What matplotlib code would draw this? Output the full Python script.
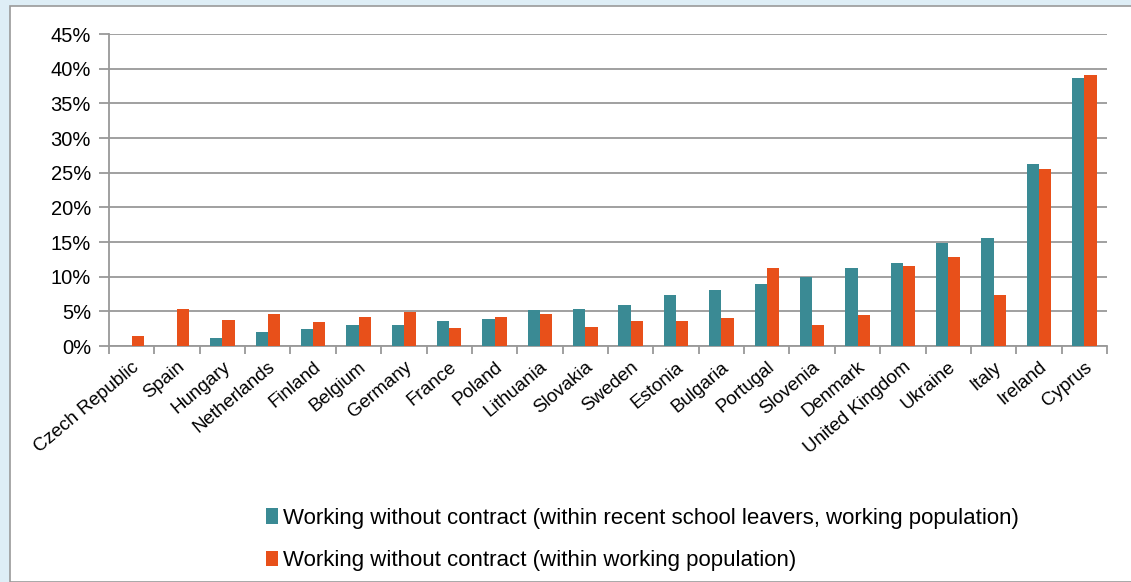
import matplotlib.pyplot as plt
import numpy as np
from matplotlib.patches import Rectangle
from matplotlib.ticker import PercentFormatter

plt.rcParams['font.family'] = ['Liberation Sans', 'DejaVu Sans']

countries = ['Czech Republic', 'Spain', 'Hungary', 'Netherlands', 'Finland', 'Belgium',
             'Germany', 'France', 'Poland', 'Lithuania', 'Slovakia', 'Sweden', 'Estonia',
             'Bulgaria', 'Portugal', 'Slovenia', 'Denmark', 'United Kingdom', 'Ukraine',
             'Italy', 'Ireland', 'Cyprus']

# % working without contract
school_leavers = [0.0, 0.0, 1.1, 2.0, 2.4, 3.0, 3.0, 3.6, 3.9, 5.2, 5.4, 5.9, 7.3,
                  8.1, 8.9, 10.0, 11.3, 11.9, 14.9, 15.6, 26.3, 38.7]
working_pop = [1.4, 5.4, 3.8, 4.6, 3.4, 4.2, 4.9, 2.6, 4.2, 4.6, 2.8, 3.6, 3.6,
               4.0, 11.3, 3.0, 4.4, 11.6, 12.9, 7.3, 25.5, 39.1]

label_a = 'Working without contract (within recent school leavers, working population)'
label_b = 'Working without contract (within working population)'

teal = '#3a8a94'
orange = '#e8501a'

fig = plt.figure(figsize=(11.31, 5.82), dpi=100)
fig.patch.set_facecolor('#deeef6')
# white chart panel behind everything
panel = Rectangle((10 / 1131, 0), 1.0, 1 - 6 / 582, transform=fig.transFigure,
                  facecolor='white', edgecolor='#9a9a9a', linewidth=1.2, zorder=-10)
fig.add_artist(panel)

ax = fig.add_axes([109 / 1131, 1 - 346 / 582, (1107 - 109) / 1131, (346 - 34) / 582])
ax.set_facecolor('white')

x = np.arange(len(countries))
w = 0.27
ax.bar(x - w / 2, school_leavers, w, color=teal, label=label_a, zorder=3)
ax.bar(x + w / 2, working_pop, w, color=orange, label=label_b, zorder=3)

ax.set_ylim(0, 45)
ax.set_xlim(-0.5, len(countries) - 0.5)
ax.set_yticks(np.arange(0, 46, 5))
ax.yaxis.set_major_formatter(PercentFormatter(decimals=0))
ax.grid(axis='y', color='#999999', linewidth=1.3, zorder=0)

for side in ['top', 'right']:
    ax.spines[side].set_visible(False)
for side in ['left', 'bottom']:
    ax.spines[side].set_color('#999999')
    ax.spines[side].set_linewidth(1.3)

ax.set_xticks(x)
ax.set_xticklabels(countries, rotation=40, ha='right', rotation_mode='anchor', fontsize=13.5)
ax.set_xticks(np.arange(-0.5, len(countries)), minor=True)
ax.tick_params(axis='x', which='major', length=0, pad=9)
ax.tick_params(axis='x', which='minor', length=6, color='#999999', width=1.3)
ax.tick_params(axis='y', length=7, color='#999999', width=1.3, labelsize=14.5, pad=6)

fig.legend(loc='upper left', bbox_to_anchor=(246 / 1131, 1 - 488 / 582), frameon=False,
           fontsize=16, handlelength=0.55, handleheight=0.7, handletextpad=0.2,
           labelspacing=0.95)

fig.savefig('out.png', dpi=100)
